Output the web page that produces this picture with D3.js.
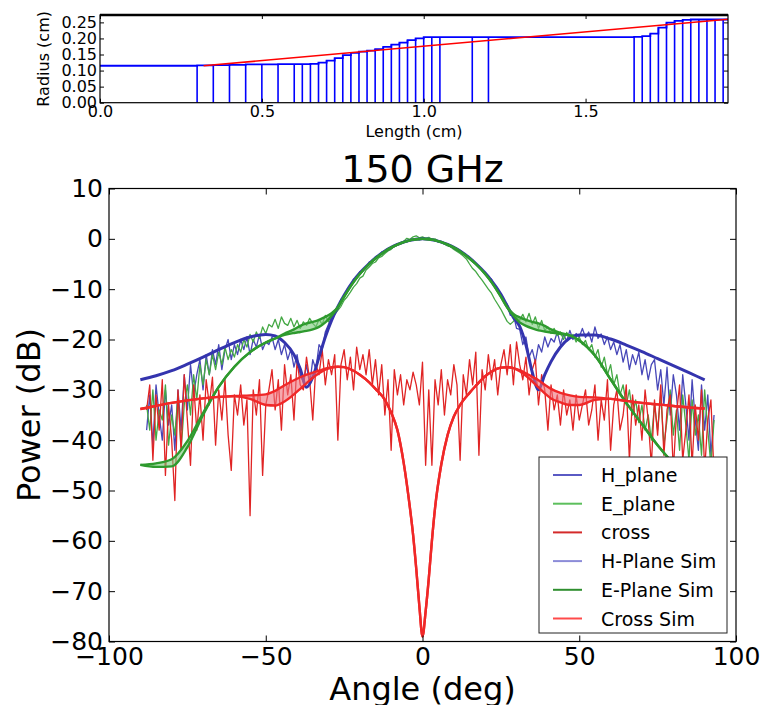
<!DOCTYPE html>
<html><head><meta charset="utf-8">
<script src="https://cdn.jsdelivr.net/npm/d3@7"></script>
<style>body{margin:0;background:#fff} text{font-family:"DejaVu Sans",sans-serif}</style>
</head><body><svg id="c" width="763" height="705"></svg>
<script>
// ---------------- top panel data (horn profile) ----------------
const topXDomain = [0, 1.94];
const topYDomain = [0, 0.273];
const topXTicks = [0, 0.5, 1.0, 1.5];
const topYTicks = [0, 0.05, 0.10, 0.15, 0.20, 0.25];
const profZ = [0, 0.30, 0.35, 0.40, 0.45, 0.50, 0.55, 0.60, 0.625, 0.65, 0.675, 0.70, 0.725, 0.75, 0.775, 0.80, 0.825, 0.85, 0.875, 0.90, 0.925, 0.95, 0.975, 1.00, 1.025, 1.05, 1.15, 1.20, 1.65, 1.675, 1.70, 1.725, 1.75, 1.775, 1.80, 1.825, 1.85, 1.875, 1.90, 1.925];
const profR = [0.115, 0.116, 0.117, 0.118, 0.119, 0.119, 0.120, 0.120, 0.120, 0.121, 0.125, 0.131, 0.139, 0.148, 0.155, 0.159, 0.162, 0.167, 0.174, 0.181, 0.187, 0.195, 0.200, 0.204, 0.204, 0.204, 0.204, 0.204, 0.205, 0.207, 0.215, 0.234, 0.249, 0.255, 0.258, 0.259, 0.259, 0.259, 0.259, 0.259];
const profEnd = 1.94;
const taperZ = [0.32, 1.94];
const taperR = [0.115, 0.260];

// ---------------- main panel data ----------------
const mainXDomain = [-100, 100];
const mainYDomain = [-80, 10];
const mainXTicks = [-100, -50, 0, 50, 100];
const mainYTicks = [-80, -70, -60, -50, -40, -30, -20, -10, 0, 10];
const measStart = -88, measEnd = 93;   // measured grid, 1 deg step
const hMeas = [-38,-31,-41,-29,-35,-40,-30,-37,-33,-42,
 -30,-38,-27,-34,-25,-31,-27,-24,-30,-23,
 -27,-22,-25,-21,-26,-22,-20,-24,-21,-23,
 -20,-22,-19.5,-23,-20,-21.5,-19,-22,-20.5,-21,
 -19.5,-22,-20,-23,-21,-24,-22,-25.5,-23,-27,
 -28.5,-25,-29,-24,-26,-21,-22,-18.5,-17,-15.5,
 -14.2,-13.9,-12.0,-11.6,-10.0,-9.6,-8.0,-7.8,-6.5,-6.4,
 -5.7,-4.6,-4.5,-3.6,-3.5,-2.6,-2.5,-1.9,-1.8,-1.3,
 -1.0,-1.0,-0.5,-0.6,-0.2,-0.3,0.1,-0.2,0.1,-0.1,
 0,-0.3,-0.2,-0.6,-0.5,-1.0,-1.0,-1.5,-1.6,-2.1,
 -2.3,-2.9,-3.2,-3.9,-4.2,-5.0,-5.4,-6.3,-6.7,-7.7,
 -8.0,-9.5,-10.0,-11.4,-12.3,-13.0,-15.2,-15.0,-17.8,-18.0,
 -21,-19.5,-23.5,-22,-24.5,-21,-22.5,-19.5,-21.5,-19.8,
 -20.5,-18.5,-21,-19,-20.3,-18.2,-20,-18.8,-19.5,-17.8,
 -19.6,-18.5,-20.5,-17.5,-19.8,-18.9,-21,-19.5,-22,-20.5,
 -23,-21,-24.5,-22,-26,-23,-25,-22.5,-27,-24,
 -28,-25,-24,-30,-26,-33,-25.5,-35,-27,-31,
 -38,-27,-33,-40,-28,-36,-42,-29,-38,-31,-43,-35];
const eMeas = [-33,-38,-30,-40,-34,-36,-29,-41,-35,-39,
 -31,-42,-33,-29,-35,-27,-32,-25,-29,-24,
 -27,-23,-26,-22.5,-25,-21.5,-24,-22,-23.5,-21,
 -22.5,-20,-21.5,-19,-20.5,-18.5,-19.8,-17.5,-18.8,-17,
 -17.5,-16,-17.8,-15.5,-16.8,-17.2,-15.8,-17.5,-16.2,-17.8,
 -16.5,-17.2,-15.8,-16.8,-17.5,-16,-17,-15.2,-16.5,-14.8,
 -15,-14.2,-13.4,-12.2,-11.5,-10.6,-9.6,-8.9,-7.8,-7.4,
 -6.2,-5.6,-4.9,-4.6,-3.8,-3.5,-2.9,-2.4,-2.1,-1.5,
 -1.2,-0.7,-0.5,0.1,-0.1,0.4,0.6,0.2,0.4,0.1,
 0.3,-0.1,0.0,-0.5,-0.6,-1.0,-1.4,-1.6,-2.1,-2.5,
 -2.9,-3.4,-4.0,-5.0,-5.9,-6.5,-7.4,-8.2,-9.1,-10.0,
 -10.8,-12.0,-13.0,-14.0,-15.2,-16.4,-17.0,-16.4,-15.6,-16.2,
 -15,-16.5,-14.8,-17,-15.5,-17.8,-16.2,-18.2,-17.5,-18.8,
 -17.8,-19.2,-18.5,-20,-18.6,-19.8,-19,-20.5,-19.5,-21,
 -20.2,-22,-21,-23.5,-22,-25.5,-23.5,-27,-25,-29,
 -27,-31,-29,-33,-30,-35,-32,-36.5,-33,-38,
 -35,-40,-33,-38,-31,-41,-36,-30,-39,-34,
 -42,-31,-37,-44,-32,-39,-35,-43,-30,-38,-45,-36];
const xMeas = [-34,-29,-44,-31,-38,-28,-47,-33,-40,-52,
 -30,-42,-27,-36,-45,-29,-38,-31,-40,-28,
 -33,-27.5,-41,-30,-36,-28,-39,-46,-31,-35,
 -29,-37,-32,-55,-30,-35,-28,-47,-33,-30,
 -26,-34,-28,-38,-25,-31,-27,-36,-24,-29,
 -30,-23.5,-28,-36,-25,-27,-22,-29,-24,-27,
 -23,-40,-25,-22,-28,-23.5,-30,-21.5,-26,-23,
 -27,-22,-29,-24,-31,-25,-35,-28,-42,-26,
 -31,-27,-33,-28,-30,-26.5,-29,-33,-24.5,-45,
 -30,-45,-28,-33,-26,-35,-28,-31,-25,-29,
 -44,-27,-31,-24,-29,-22.5,-43,-26,-30,-23,
 -28,-24,-31,-25,-22,-27,-21,-29,-20.5,-25,
 -28,-23.5,-31,-26,-24,-33,-27,-30,-38,-29,
 -34,-31,-37,-30,-35,-32,-38,-31,-36,-33,
 -30,-37,-34,-29,-40,-32,-36,-28,-42,-33,
 -30,-38,-35,-29,-44,-31,-37,-33,-40,-30,
 -36,-45,-32,-39,-29,-43,-34,-31,-46,-35,
 -29,-44,-38,-31,-45,-33,-40,-30,-46,-36,-32,-47];

const simAngles = [-90,-85,-80,-75,-70,-65,-60,-55,-50,-47,-44,-41,-39,-37,-35,-33,-31,-29,-27,-25,-22,-20,-17,-15,-12,-10,-8,-6,-4,-3,-2,-1,0,1,2,3,4,6,8,10,12,15,17,20,22,25,27,29,31,33,35,37,39,41,44,47,50,55,60,65,70,75,80,85,90];
const hSim = [-28,-27.2,-26.2,-24.9,-23.5,-22,-20.6,-19.5,-19,-19.3,-20.6,-23,-25.8,-29.5,-27.5,-23.5,-19.5,-16.2,-13.5,-11.2,-8.3,-6.8,-4.9,-3.8,-2.4,-1.7,-1.1,-0.65,-0.3,-0.17,-0.08,-0.02,0,-0.02,-0.08,-0.17,-0.3,-0.65,-1.1,-1.7,-2.4,-3.8,-4.9,-6.8,-8.3,-11,-13.3,-15.6,-17.4,-21.1,-26.5,-30,-27,-24.4,-21.5,-19.7,-19.1,-19.1,-19.9,-21.1,-22.4,-23.8,-25.2,-26.6,-28];
const eSimA = [-44.9,-45.3,-45.2,-41.4,-35,-29.4,-25.4,-22.5,-20.6,-19.8,-19.1,-18.7,-18.5,-18.3,-18,-17.5,-16.6,-15.3,-13.6,-11.5,-8.6,-7,-5,-3.9,-2.5,-1.75,-1.15,-0.67,-0.3,-0.17,-0.08,-0.02,0,-0.02,-0.08,-0.17,-0.3,-0.67,-1.15,-1.75,-2.5,-3.9,-5,-7,-8.6,-11.5,-13.6,-15.3,-16.6,-17.3,-17.8,-18.2,-18.4,-18.6,-18.9,-19.2,-20.2,-23.2,-27.9,-32.6,-36.8,-41,-44.6,-47.6,-50];
const eSimB = [-44.9,-44.6,-43.8,-40.2,-34.6,-29.4,-25.4,-22.5,-20.6,-19.8,-18.8,-18,-17.3,-16.8,-16.5,-16.1,-15.5,-14.8,-13.6,-11.5,-8.6,-7,-5,-3.9,-2.5,-1.75,-1.15,-0.67,-0.3,-0.17,-0.08,-0.02,0,-0.02,-0.08,-0.17,-0.3,-0.67,-1.15,-1.75,-2.5,-3.9,-5,-7,-8.6,-11.5,-13.6,-14.9,-15.6,-16.1,-16.5,-16.8,-17.3,-18,-18.7,-19.2,-20.2,-23.2,-27.9,-32.6,-36.8,-41,-44.6,-47.6,-50];
const xSimA = [-33.8,-33.2,-32.6,-32.1,-31.7,-31.4,-31.2,-31.1,-30.9,-30.2,-29.1,-28.1,-27.5,-27,-26.6,-26.2,-25.8,-25.5,-25.4,-25.5,-26.2,-27,-28.5,-29.8,-32,-34.5,-38,-44.5,-53.5,-58.8,-65.5,-73,-79,-74,-67.5,-60,-53.5,-44.8,-39,-35.3,-33,-30.6,-29.2,-27.3,-26.4,-25.6,-25.5,-25.7,-26.1,-26.7,-27.4,-28.1,-29,-29.8,-30.6,-31.1,-31.4,-31.5,-31.8,-32.2,-32.6,-32.9,-33.2,-33.5,-33.7];
const xSimB = [-33.8,-33.2,-32.6,-32.1,-31.7,-31.4,-31.3,-31.8,-33,-33.1,-32.3,-30.9,-29.8,-28.7,-27.6,-26.7,-26,-25.6,-25.4,-25.5,-26.2,-27,-28.5,-29.8,-32,-34.5,-38,-44.5,-53.5,-58.8,-65.5,-73,-79,-74,-67.5,-60,-53.5,-44.8,-39,-35.3,-33,-30.6,-29.2,-27.3,-26.4,-25.6,-25.5,-25.7,-26.3,-27.2,-28.3,-29.5,-30.7,-31.7,-32.5,-33,-33,-32,-31.8,-32.2,-32.6,-32.9,-33.2,-33.5,-33.7];

const legendLabels = ["H_plane","E_plane","cross","H-Plane Sim","E-Plane Sim","Cross Sim"];
const legendColors = ["#5a5ac4","#5cbf5c","#d42a2a","#8c8cd8","#2f8f2f","#ff4a4a"];

// ---------------- drawing ----------------
const svg = d3.select("#c");
const FONT = "DejaVu Sans";

function frameAxes(g, x, y, box, xt, yt, xfmt, yfmt, fs, tlen, pad) {
  const ax = g.append("g").attr("transform", `translate(0,${box.b})`)
    .call(d3.axisBottom(x).tickValues(xt).tickFormat(xfmt).tickSize(-tlen).tickPadding(pad));
  const axT = g.append("g").attr("transform", `translate(0,${box.t})`)
    .call(d3.axisTop(x).tickValues(xt).tickFormat("").tickSize(-tlen));
  const ay = g.append("g").attr("transform", `translate(${box.l},0)`)
    .call(d3.axisLeft(y).tickValues(yt).tickFormat(yfmt).tickSize(-tlen).tickPadding(pad));
  const ayR = g.append("g").attr("transform", `translate(${box.r},0)`)
    .call(d3.axisRight(y).tickValues(yt).tickFormat("").tickSize(-tlen));
  [ax, axT, ay, ayR].forEach(a => {
    a.select(".domain").remove();
    a.selectAll("line").attr("stroke", "#000").attr("stroke-width", 1);
    a.selectAll("text").attr("font-family", FONT).attr("font-size", fs).attr("fill", "#000");
  });
  return {ax, ay};
}

// ---- top panel ----
const tp = {l:100, r:728, t:15, b:102.7};
const tx = d3.scaleLinear().domain(topXDomain).range([tp.l, tp.r]);
const ty = d3.scaleLinear().domain(topYDomain).range([tp.b, tp.t]);
const gt = svg.append("g");
gt.append("clipPath").attr("id","cpt").append("rect").attr("x",tp.l).attr("y",tp.t).attr("width",tp.r-tp.l).attr("height",tp.b-tp.t);
const gtd = gt.append("g").attr("clip-path","url(#cpt)");
const profPts = profZ.map((z,i)=>[z,profR[i]]).concat([[profEnd, profR[profR.length-1]]]);
profZ.forEach((z,i)=>{
  if (i===0) return;
  const r = Math.max(profR[i-1], profR[i]);
  gtd.append("line").attr("x1",tx(z)).attr("x2",tx(z)).attr("y1",ty(0)).attr("y2",ty(r))
    .attr("stroke","#0000ff").attr("stroke-width",1.6);
});
gtd.append("path").datum(profPts)
  .attr("d", d3.line().x(d=>tx(d[0])).y(d=>ty(d[1])).curve(d3.curveStepAfter))
  .attr("fill","none").attr("stroke","#0000ff").attr("stroke-width",1.8);
gtd.append("path").datum(taperZ.map((z,i)=>[z,taperR[i]]))
  .attr("d", d3.line().x(d=>tx(d[0])).y(d=>ty(d[1])))
  .attr("fill","none").attr("stroke","#ff0000").attr("stroke-width",1.6);
frameAxes(gt, tx, ty, tp, topXTicks, topYTicks, d3.format(".1f"), d3.format(".2f"), 16, 4, 3);
gt.append("rect").attr("x",tp.l).attr("y",tp.t).attr("width",tp.r-tp.l).attr("height",tp.b-tp.t)
  .attr("fill","none").attr("stroke","#000").attr("stroke-width",1.2);
gt.append("line").attr("x1",tp.l).attr("x2",tp.r).attr("y1",tp.t).attr("y2",tp.t).attr("stroke","#000").attr("stroke-width",2.5);
gt.append("text").attr("x",(tp.l+tp.r)/2).attr("y",137).attr("text-anchor","middle")
  .attr("font-family",FONT).attr("font-size",16).text("Length (cm)");
gt.append("text").attr("transform",`translate(49,${(tp.t+tp.b)/2}) rotate(-90)`).attr("text-anchor","middle")
  .attr("font-family",FONT).attr("font-size",16).text("Radius (cm)");

// ---- main panel ----
const mp = {l:109, r:736, t:188.5, b:641.5};
const x = d3.scaleLinear().domain(mainXDomain).range([mp.l, mp.r]);
const y = d3.scaleLinear().domain(mainYDomain).range([mp.b, mp.t]);
const gm = svg.append("g");
gm.append("clipPath").attr("id","cpm").append("rect").attr("x",mp.l).attr("y",mp.t).attr("width",mp.r-mp.l).attr("height",mp.b-mp.t);
const gd = gm.append("g").attr("clip-path","url(#cpm)");
const measAngles = d3.range(measStart, measEnd + 1, 1);
const ln = d3.line().x(d=>x(d[0])).y(d=>y(d[1]));
const lnS = d3.line().x(d=>x(d[0])).y(d=>y(d[1])).curve(d3.curveMonotoneX);
function meas(arr, color) {
  gd.append("path").datum(measAngles.map((a,i)=>[a, arr[i]])).attr("d", ln)
    .attr("fill","none").attr("stroke",color).attr("stroke-width",1.3).attr("stroke-linejoin","round");
}
meas(hMeas, "#4747b8");
meas(eMeas, "#45a845");
meas(xMeas, "#e02424");
function band(a, b, fill) {
  gd.append("path").datum(simAngles.map((ang,i)=>[ang, a[i], b[i]]))
    .attr("d", d3.area().x(d=>x(d[0])).y0(d=>y(d[1])).y1(d=>y(d[2])).curve(d3.curveMonotoneX))
    .attr("fill", fill).attr("stroke","none");
}
function sim(arr, color, w) {
  gd.append("path").datum(simAngles.map((a,i)=>[a, arr[i]])).attr("d", lnS)
    .attr("fill","none").attr("stroke",color).attr("stroke-width",w).attr("stroke-linejoin","round");
}
sim(hSim, "#3434ae", 3);
band(eSimA, eSimB, "rgba(120,200,120,0.6)");
sim(eSimA, "#2e9a2e", 2.4);
sim(eSimB, "#2e9a2e", 2.4);
band(xSimA, xSimB, "rgba(240,110,120,0.6)");
sim(xSimA, "#f02828", 2.4);
sim(xSimB, "#f02828", 2.4);

frameAxes(gm, x, y, mp, mainXTicks, mainYTicks, d3.format("d"), d3.format("d"), 25, 6, 6);
gm.append("rect").attr("x",mp.l).attr("y",mp.t).attr("width",mp.r-mp.l).attr("height",mp.b-mp.t)
  .attr("fill","none").attr("stroke","#000").attr("stroke-width",1.2);
gm.append("text").attr("x",(mp.l+mp.r)/2).attr("y",182).attr("text-anchor","middle")
  .attr("font-family",FONT).attr("font-size",38).text("150 GHz");
gm.append("text").attr("x",(mp.l+mp.r)/2).attr("y",700).attr("text-anchor","middle")
  .attr("font-family",FONT).attr("font-size",32).text("Angle (deg)");
gm.append("text").attr("transform",`translate(40,${(mp.t+mp.b)/2}) rotate(-90)`).attr("text-anchor","middle")
  .attr("font-family",FONT).attr("font-size",32).text("Power (dB)");

// legend
const lg = gm.append("g");
lg.append("rect").attr("x",539).attr("y",457).attr("width",188).attr("height",176)
  .attr("fill","#fff").attr("stroke","#222").attr("stroke-width",1);
legendLabels.forEach((t,i)=>{
  const yy = 475 + i*28.7;
  lg.append("line").attr("x1",553).attr("x2",582).attr("y1",yy).attr("y2",yy)
    .attr("stroke",legendColors[i]).attr("stroke-width",2);
  lg.append("text").attr("x",601).attr("y",yy+7).attr("font-family",FONT).attr("font-size",19).text(t);
});
</script></body></html>
